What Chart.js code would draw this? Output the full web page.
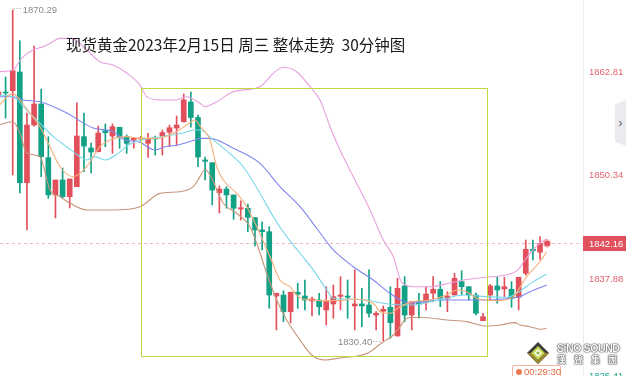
<!DOCTYPE html>
<html lang="zh">
<head>
<meta charset="utf-8">
<title>现货黄金 30分钟图</title>
<script src="https://cdn.jsdelivr.net/npm/chart.js@4.4.1/dist/chart.umd.min.js"></script>
<style>
  html, body { margin: 0; padding: 0; background: #fff; overflow: hidden; }
  #box { position: relative; width: 626px; height: 376px; }
  #kline { position: absolute; left: 0; top: 0; }
  #title { position: absolute; left: 66px; top: 34px; font: 15.5px "Noto Sans CJK SC", sans-serif; line-height: 20px; color: #1a1a1a; white-space: pre; }
  #tab { position: absolute; left: 615px; top: 100px; width: 11px; height: 46px; background: #ebebef;
         clip-path: polygon(0 9%, 100% 0, 100% 100%, 0 91%); color: #666; font: 13px "Liberation Sans", Arial, sans-serif; line-height: 46px; text-align: center; }
  #mark { position: absolute; left: 526px; top: 341px; }
  #logo { position: absolute; left: 557px; top: 342px; width: 64px; color: #fff; font-family: "Liberation Sans", Arial, sans-serif; font-weight: bold;
          white-space: nowrap; text-shadow: 0 0 1px #333, 0 0 1px #333, 0 0 2px #666; }
  #logo .en { font-size: 10.5px; line-height: 12px; letter-spacing: -0.4px; }
  #logo .cn { font: bold 9px "Noto Sans CJK TC", sans-serif; line-height: 11px; display: flex; justify-content: space-between; width: 60px; }
  #timer { position: absolute; left: 512px; top: 365px; width: 47px; height: 14px; border: 1px solid #f2b29c; border-radius: 2px; background: #fff;
           color: #e8693e; font: 9.5px "Liberation Sans", Arial, sans-serif; line-height: 12px; white-space: nowrap; }
  #timer i { position: absolute; left: 3px; top: 3px; width: 6px; height: 6px; border-radius: 50%; background: #ee7a50; }
  #timer span { position: absolute; left: 11px; top: 0; }
</style>
</head>
<body>
<div id="box">
  <canvas id="kline" width="626" height="376"></canvas>
  <div id="title">现货黄金2023年2月15日 周三 整体走势  30分钟图</div>
  <div id="tab">›</div>
  <svg id="mark" width="24" height="24" viewBox="0 0 24 24">
    <polygon points="12,1 23,12 12,23 1,12" fill="#3c3c3c"/>
    <polygon points="1,12 12,23 23,12 19,12 12,19 5,12" fill="#9a8630"/>
    <polygon points="12,5 19,12 12,19 5,12" fill="#c5d64a"/>
    <polygon points="12,8 16,12 12,16 8,12" fill="#ffffff"/>
    <polygon points="12,10 14,12 12,14 10,12" fill="#8dbb3c"/>
  </svg>
  <div id="logo"><div class="en">SiNO SOUND</div><div class="cn"><span>漢</span><span>聲</span><span>集</span><span>團</span></div></div>
  <div id="timer"><i></i><span>00:29:30</span></div>
</div>
<script>
// 30-minute candles, oldest first (price in USD/oz)
const opens = [1860.04, 1860.40, 1860.56, 1862.81, 1849.47, 1856.43, 1858.96, 1852.49, 1848.00, 1849.80,
  1847.79, 1848.99, 1855.02, 1853.65, 1853.21, 1855.74, 1855.10, 1856.15, 1855.02, 1854.62,
  1854.74, 1854.22, 1854.94, 1855.10, 1855.55, 1856.06, 1856.82, 1859.20, 1857.33, 1852.21,
  1851.88, 1848.27, 1848.71, 1848.00, 1846.31, 1846.39, 1845.26, 1843.78, 1843.57, 1835.82,
  1835.94, 1833.93, 1836.27, 1835.82, 1835.22, 1835.34, 1834.14, 1834.86, 1835.78, 1835.82,
  1834.62, 1834.86, 1834.74, 1833.53, 1833.98, 1834.46, 1831.00, 1837.03, 1833.53, 1835.14,
  1835.02, 1836.15, 1836.63, 1835.55, 1835.94, 1837.55, 1836.94, 1835.94, 1832.85, 1835.94,
  1837.03, 1836.67, 1836.63, 1835.67, 1838.56, 1841.45, 1841.09];
const closes = [1860.40, 1860.28, 1862.97, 1849.47, 1856.43, 1858.96, 1852.61, 1848.00, 1849.80, 1847.79,
  1849.92, 1855.10, 1853.89, 1853.17, 1855.46, 1855.50, 1856.22, 1854.94, 1854.22, 1854.82,
  1854.86, 1854.74, 1854.74, 1855.52, 1856.10, 1856.43, 1859.44, 1857.33, 1852.57, 1852.05,
  1848.59, 1848.71, 1848.00, 1846.39, 1846.46, 1845.30, 1843.78, 1843.57, 1835.94, 1836.15,
  1833.93, 1836.27, 1836.03, 1835.34, 1835.46, 1834.53, 1835.14, 1835.74, 1835.94, 1835.67,
  1834.86, 1834.62, 1833.74, 1833.74, 1834.22, 1832.61, 1836.75, 1833.53, 1835.14, 1834.86,
  1836.06, 1836.63, 1835.55, 1835.82, 1837.96, 1836.94, 1835.94, 1833.74, 1833.33, 1837.03,
  1836.55, 1836.94, 1835.55, 1838.08, 1841.45, 1841.28, 1842.16];
const highs = [1860.88, 1862.21, 1870.29, 1866.58, 1857.87, 1865.94, 1860.76, 1855.02, 1849.80, 1851.24,
  1849.92, 1859.11, 1857.87, 1854.26, 1856.30, 1856.55, 1856.55, 1856.15, 1855.22, 1854.82,
  1855.10, 1855.43, 1855.10, 1855.82, 1856.43, 1857.51, 1860.16, 1860.40, 1857.63, 1852.57,
  1851.88, 1849.07, 1848.99, 1848.00, 1847.30, 1846.91, 1845.26, 1844.77, 1844.17, 1836.15,
  1836.46, 1836.30, 1837.35, 1837.75, 1835.70, 1836.15, 1836.94, 1837.15, 1838.15, 1837.75,
  1838.96, 1836.75, 1838.96, 1833.93, 1834.62, 1836.94, 1837.96, 1838.15, 1835.14, 1836.15,
  1836.94, 1838.15, 1837.55, 1836.34, 1838.56, 1838.87, 1836.94, 1836.18, 1833.74, 1837.23,
  1838.08, 1838.08, 1837.55, 1838.08, 1842.57, 1842.57, 1842.97];
const lows = [1859.44, 1857.27, 1850.40, 1848.23, 1843.78, 1856.30, 1850.20, 1847.59, 1845.22, 1847.63,
  1846.43, 1848.99, 1850.80, 1850.64, 1853.17, 1853.81, 1853.02, 1853.62, 1853.02, 1853.62,
  1854.50, 1852.53, 1852.81, 1852.81, 1853.81, 1854.02, 1856.78, 1856.18, 1851.40, 1849.80,
  1846.79, 1845.82, 1846.39, 1845.06, 1844.98, 1843.57, 1841.85, 1841.37, 1834.34, 1831.73,
  1832.73, 1832.57, 1834.34, 1834.14, 1833.42, 1833.53, 1832.33, 1833.14, 1834.14, 1833.14,
  1831.73, 1832.12, 1833.26, 1831.73, 1830.40, 1830.73, 1831.00, 1832.73, 1831.73, 1833.14,
  1834.14, 1835.14, 1834.53, 1833.93, 1835.94, 1835.94, 1835.34, 1833.53, 1832.85, 1835.34,
  1834.94, 1835.74, 1834.46, 1834.14, 1838.35, 1840.16, 1840.24];

// indicator lines at candle positions (x = candle slot)
const maFastX = [0, 2.04, 3.02, 4.43, 5.83, 7.23, 8.64, 10.5, 12.38, 14.25, 15.65, 18.0, 19.86, 22.21, 25.0, 26.42,
  27.58, 28.28, 29.69, 30.63, 31.55, 33.43, 34.84, 36.24, 38.11, 39.51, 40.91, 42.08, 43.96, 45.83, 47.69, 49.57,
  51.44, 52.84, 53.55, 54.95, 56.35, 58.22, 60.56, 62.9, 64.31, 65.71, 67.11, 68.42, 70.38, 72.25, 74.12, 76.0, 76.94];
const maFastY = [1858.71, 1860.24, 1859.44, 1857.84, 1856.22, 1853.81, 1851.40, 1850.20, 1851.40, 1853.81, 1854.62,
  1855.02, 1854.82, 1854.82, 1855.62, 1856.43, 1857.03, 1856.30, 1854.62, 1851.40, 1849.80, 1848.19, 1846.58,
  1844.17, 1840.56, 1837.75, 1836.94, 1835.74, 1835.34, 1835.26, 1835.26, 1835.43, 1835.34, 1834.74, 1833.93,
  1833.74, 1834.53, 1835.14, 1835.34, 1835.94, 1836.55, 1836.34, 1835.55, 1835.34, 1835.26, 1835.74, 1838.15,
  1839.96, 1841.16];
const maMidX = [0, 2.04, 3.96, 5.83, 7.7, 9.58, 11.44, 12.38, 13.55, 14.95, 16.82, 18.22, 20.1, 22.91, 25.72, 27.58,
  28.28, 30.15, 32.96, 34.36, 36.7, 38.57, 40.45, 42.32, 44.18, 46.06, 46.99, 49.33, 51.68, 54.01, 56.35, 58.22,
  60.56, 62.9, 65.23, 68.42, 71.32, 72.73, 75.06, 76.94];
const maMidY = [1860.04, 1859.84, 1858.23, 1856.63, 1855.02, 1853.81, 1852.61, 1852.21, 1852.61, 1852.21, 1853.01,
  1854.02, 1854.62, 1855.02, 1855.43, 1855.82, 1855.82, 1854.62, 1852.61, 1851.40, 1848.20, 1845.38, 1842.97,
  1840.97, 1838.96, 1836.55, 1835.55, 1835.43, 1835.34, 1834.94, 1834.74, 1834.74, 1835.14, 1835.55, 1835.94,
  1835.74, 1835.67, 1836.15, 1837.55, 1838.47];
const bandMidX = [0, 2.04, 3.49, 5.83, 9.58, 13.31, 16.12, 17.76, 19.63, 21.97, 23.37, 25.24, 27.58, 28.28, 29.69,
  32.96, 36.7, 39.51, 42.32, 44.66, 46.99, 49.8, 52.6, 54.95, 57.75, 60.56, 62.9, 65.23, 68.42, 71.79, 73.19,
  74.59, 76.94];
const bandMidY = [1859.84, 1859.84, 1859.44, 1859.23, 1857.87, 1856.06, 1855.62, 1854.62, 1854.41, 1853.41, 1853.81,
  1854.02, 1854.62, 1854.82, 1854.82, 1853.62, 1851.81, 1848.99, 1846.58, 1843.98, 1841.37, 1839.35, 1837.75,
  1836.15, 1834.94, 1835.26, 1835.34, 1835.34, 1835.34, 1835.55, 1835.74, 1836.34, 1837.15];
const bandUpX = [0, 2.04, 3.26, 4.85, 6.25, 7.23, 8.64, 10.28, 12.38, 14.25, 16.07, 18.0, 19.86, 20.8, 22.67, 25.0,
  26.4, 28.28, 28.99, 30.63, 32.96, 36.7, 38.57, 39.97, 41.85, 43.72, 45.12, 46.53, 47.93, 49.8, 52.14, 54.0,
  55.41, 56.59, 58.22, 60.56, 63.37, 65.23, 68.42, 70.38, 72.21, 72.91, 73.89, 75.01, 76.0, 76.94];
const bandUpY = [1862.85, 1863.05, 1864.50, 1865.46, 1865.86, 1866.27, 1866.87, 1866.87, 1865.46, 1864.05, 1863.65,
  1862.69, 1861.24, 1859.84, 1859.44, 1859.44, 1859.84, 1859.04, 1858.63, 1859.23, 1860.44, 1861.04, 1862.65,
  1863.38, 1862.85, 1861.04, 1859.44, 1856.22, 1853.41, 1850.20, 1846.18, 1842.57, 1840.56, 1837.45, 1836.94,
  1836.94, 1837.39, 1837.75, 1838.08, 1838.23, 1838.60, 1838.96, 1840.16, 1841.37, 1842.21, 1842.69];
const bandLowX = [0, 2.04, 3.02, 3.96, 5.83, 7.23, 8.64, 10.04, 12.38, 16.07, 19.86, 22.67, 25.48, 27.35, 28.28, 28.99,
  29.69, 31.55, 33.43, 35.3, 36.24, 37.64, 39.05, 40.45, 42.32, 43.96, 45.83, 47.93, 51.86, 53.78, 55.41, 56.35,
  57.29, 59.16, 62.9, 65.71, 68.42, 70.38, 72.49, 73.19, 74.59, 76.0, 76.94];
const bandLowY = [1856.43, 1856.82, 1855.46, 1853.05, 1852.61, 1848.59, 1847.79, 1846.99, 1846.19, 1846.19, 1846.58,
  1848.19, 1848.39, 1848.99, 1850.20, 1851.09, 1850.40, 1846.99, 1845.79, 1844.17, 1842.17, 1838.56, 1835.34,
  1832.93, 1830.52, 1828.71, 1828.11, 1828.35, 1828.96, 1830.16, 1831.12, 1832.12, 1833.14, 1833.26, 1832.93,
  1832.73, 1832.21, 1832.33, 1832.61, 1832.33, 1832.12, 1831.81, 1831.93];

const yTicks = [1837.88, 1850.34, 1862.81];
const belowTick = 1825.41;
const lastPrice = 1842.16;
const liveSlot = 77;
// highlighted range (candle slots / price)
const rangeSlots = [20, 68.5];
const rangePrices = [1828.59, 1860.88];

const UP = '#e2505c', DOWN = '#13a186';
const pick = (o, c) => (c >= o ? UP : DOWN);

const bodies = opens.map((o, i) => ({ x: i, y: [o, closes[i]] }));
const wicks = lows.map((l, i) => ({ x: i, y: [l, highs[i]] }));
const pts = (xs, ys) => xs.map((x, k) => ({ x, y: ys[k] }));

function lineSet(label, xs, ys, color) {
  return {
    type: 'line', label, data: pts(xs, ys), borderColor: color, borderWidth: 1.1,
    pointRadius: 0, cubicInterpolationMode: 'monotone', order: 1
  };
}

const noPad = axis => { axis.paddingTop = 0; axis.paddingBottom = 0; axis.paddingLeft = 0; axis.paddingRight = 0; };

const decor = {
  id: 'decor',
  beforeDatasetsDraw(chart) {
    const { ctx, chartArea: a, scales: { y } } = chart;
    const py = Math.round(y.getPixelForValue(lastPrice)) + 0.5;
    ctx.save();
    ctx.strokeStyle = '#f3b7c0';
    ctx.lineWidth = 1;
    ctx.setLineDash([3, 3]);
    ctx.beginPath();
    ctx.moveTo(a.left, py);
    ctx.lineTo(a.right, py);
    ctx.stroke();
    ctx.restore();
  },
  afterDatasetsDraw(chart) {
    const { ctx, chartArea: a, scales: { x, y } } = chart;
    ctx.save();
    // the framed range
    const bx0 = Math.round(x.getPixelForValue(rangeSlots[0])) + 0.5;
    const bx1 = Math.round(x.getPixelForValue(rangeSlots[1])) + 0.5;
    const by0 = Math.round(y.getPixelForValue(rangePrices[1])) + 0.5;
    const by1 = Math.round(y.getPixelForValue(rangePrices[0])) + 0.5;
    ctx.strokeStyle = '#bdd845';
    ctx.lineWidth = 1;
    ctx.strokeRect(bx0, by0, bx1 - bx0, by1 - by0);

    // max / min markers
    ctx.font = '9.5px "Liberation Sans", Arial, sans-serif';
    ctx.fillStyle = '#8a8a8a';
    ctx.strokeStyle = '#9a9a9a';
    ctx.textBaseline = 'middle';
    const hi = Math.max(...highs), lo = Math.min(...lows);
    const hx = x.getPixelForValue(highs.indexOf(hi)), hy = y.getPixelForValue(hi);
    const lx = x.getPixelForValue(lows.indexOf(lo)), ly = y.getPixelForValue(lo);
    ctx.setLineDash([1, 2]);
    ctx.beginPath();
    ctx.moveTo(hx + 1, Math.round(hy) - 1.5); ctx.lineTo(hx + 9, Math.round(hy) - 1.5);
    ctx.moveTo(lx - 10, Math.round(ly) + 0.5); ctx.lineTo(lx - 1, Math.round(ly) + 0.5);
    ctx.stroke();
    ctx.setLineDash([]);
    ctx.textAlign = 'left';
    ctx.fillText(hi.toFixed(2), hx + 10, hy);
    ctx.textAlign = 'right';
    ctx.fillText(lo.toFixed(2), lx - 11, ly + 1);

    // live price badge
    const py = y.getPixelForValue(lastPrice);
    ctx.fillStyle = '#e0505d';
    ctx.fillRect(a.right, Math.round(py) - 7, chart.width - a.right, 15);
    ctx.fillStyle = '#ffffff';
    ctx.textAlign = 'left';
    ctx.fillText(lastPrice.toFixed(2), a.right + 6, py + 0.5);

    // next tick below the visible range
    ctx.fillStyle = '#1aa58a';
    ctx.fillText(belowTick.toFixed(2), a.right + 6, chart.height + 0.5);
    ctx.restore();
  }
};

new Chart(document.getElementById('kline'), {
  type: 'bar',
  data: {
    datasets: [
      { label: 'live', type: 'line', data: [{ x: liveSlot, y: lastPrice }], showLine: false,
        pointRadius: 3, pointBackgroundColor: UP, pointBorderColor: 'rgba(226,80,92,0.25)', pointBorderWidth: 3, order: 0 },
      lineSet('MA5', maFastX, maFastY, '#f8b07a'),
      lineSet('MA10', maMidX, maMidY, '#78d8ea'),
      lineSet('BOLL', bandMidX, bandMidY, '#7f85ef'),
      lineSet('UB', bandUpX, bandUpY, '#e7a0de'),
      lineSet('LB', bandLowX, bandLowY, '#c6957a'),
      { label: 'body', data: bodies, barThickness: 5, minBarLength: 1, grouped: false, order: 5,
        backgroundColor: ctx => pick(opens[ctx.dataIndex], closes[ctx.dataIndex]) },
      { label: 'wick', data: wicks, barThickness: 1, grouped: false, order: 6,
        backgroundColor: ctx => pick(opens[ctx.dataIndex], closes[ctx.dataIndex]) }
    ]
  },
  options: {
    responsive: false,
    animation: false,
    devicePixelRatio: 1,
    layout: { padding: 0, autoPadding: false },
    plugins: { legend: { display: false }, tooltip: { enabled: false } },
    scales: {
      x: { type: 'linear', min: 0.2175, max: 82.03, offset: false, display: false,
           ticks: { display: false }, afterFit: noPad },
      y: {
        type: 'linear', position: 'right', min: 1826.18, max: 1871.49, beginAtZero: false,
        grid: { display: false, drawTicks: false },
        border: { display: true, color: '#ededed' },
        ticks: { color: '#e0646e', padding: 6, font: { size: 9.5, lineHeight: 0.1, family: '"Liberation Sans", Arial, sans-serif' },
                 callback: v => v.toFixed(2) },
        afterBuildTicks: axis => { axis.ticks = yTicks.map(v => ({ value: v })); },
        afterFit: axis => { axis.width = 43; noPad(axis); }
      }
    }
  },
  plugins: [decor]
});
</script>
</body>
</html>
